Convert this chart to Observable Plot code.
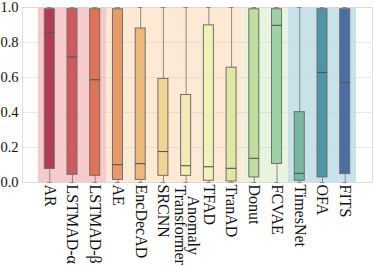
<!DOCTYPE html>
<html>
<head>
<meta charset="utf-8">
<script src="https://cdn.jsdelivr.net/npm/d3@7"></script>
<script src="https://cdn.jsdelivr.net/npm/@observablehq/plot@0.6"></script>
<style>
  html, body { margin: 0; padding: 0; background: #fff; }
  #chart { width: 374px; height: 266px; }
</style>
</head>
<body>
<div id="chart"></div>
<script>
const names = ["AR","LSTMAD-α","LSTMAD-β","AE","EncDecAD","SRCNN","Anomaly\nTransformer","TFAD","TranAD","Donut","FCVAE","TimesNet","OFA","FITS"];
const whiskerLow  = [0,0,0,0,0,0,0,0,0,0,0,0,0,0];
const whiskerHigh = [1,1,1,1,1,1,1,1,1,1,1,1,1,1];
const q1     = [0.077,0.044,0.038,0.015,0.015,0.038,0.038,0.010,0.006,0.029,0.106,0.010,0.029,0.048];
const median = [0.858,0.717,0.587,0.102,0.108,0.177,0.096,0.090,0.081,0.138,0.898,0.052,0.629,0.571];
const q3     = [0.99,0.99,0.99,0.99,0.88,0.592,0.50,0.898,0.656,0.99,0.99,0.402,0.99,0.99];
const boxColors = ["#b13b57","#cf5a5e","#e07351","#e99a6a","#ecb97b","#f0d492","#f3eab5","#eff3b6","#dfe8a2","#c0dea0","#9fd2a5","#76b9a0","#4f96a5","#4a6da6"];

const groupFirst = [0,3,9,11];
const groupLast  = [2,8,10,13];
const groupColors = ["#f6c9cb","#fde9d4","#e9f4de","#c8e2ea"];
const yTicks = [0,0.2,0.4,0.6,0.8,1.0];

const boxes = names.map((n,i) => ({i, n, lo: whiskerLow[i], hi: whiskerHigh[i], q1: q1[i], med: median[i], q3: q3[i], c: boxColors[i]}));
const groups = groupFirst.map((s,k) => ({a: s - 0.5, b: groupLast[k] + 0.5, c: groupColors[k]}));
const hw = 0.22, cw = 0.1;

const font = "'Liberation Serif', 'DejaVu Serif', serif";
const fs = 16;
// multi-line label: lines centred on each other, as in the reference
const multi = boxes.filter(d => d.n.includes("\n"));
const ctx = document.createElement("canvas").getContext("2d");
ctx.font = `${fs}px 'Liberation Serif'`;
const lineGap = 13;
const pad = 3;
const multiMarks = [];
multi.forEach(d => {
  const lines = d.n.split("\n");
  const widths = lines.map(l => ctx.measureText(l).width);
  const wMax = Math.max(...widths);
  lines.forEach((l, k) => {
    const off = (k - (lines.length - 1) / 2) * -lineGap; // first line to the right
    multiMarks.push(Plot.text([d], {x: "i", frameAnchor: "bottom", text: () => l, rotate: 90,
      textAnchor: "middle", lineAnchor: "middle", dy: pad + wMax / 2, dx: off, fontSize: fs, fill: "#111"}));
  });
});

const plot = Plot.plot({
  width: 374, height: 266,
  marginLeft: 22, marginRight: 2, marginTop: 7, marginBottom: 84,
  style: {fontFamily: font, fontSize: fs + "px", background: "#fff", color: "#111", overflow: "visible"},
  x: {type: "linear", domain: [-1.2, 14.2]},
  y: {domain: [0, 1]},
  marks: [
    Plot.rect(groups, {x1: "a", x2: "b", y1: 0, y2: 1, fill: "c"}),
    Plot.ruleY(yTicks, {stroke: "#cfcfcf", strokeOpacity: 0.6, strokeWidth: 0.8}),
    Plot.frame({stroke: "#d8d8d8", strokeWidth: 0.8}),
    Plot.ruleX(boxes, {x: "i", y1: "lo", y2: "q1", stroke: "#8a8a8a", strokeWidth: 1}),
    Plot.ruleX(boxes, {x: "i", y1: "q3", y2: "hi", stroke: "#8a8a8a", strokeWidth: 1}),
    Plot.ruleY(boxes, {y: "lo", x1: d => d.i - cw, x2: d => d.i + cw, stroke: "#8a8a8a", strokeWidth: 1}),
    Plot.ruleY(boxes, {y: "hi", x1: d => d.i - cw, x2: d => d.i + cw, stroke: "#8a8a8a", strokeWidth: 1}),
    Plot.rect(boxes, {x1: d => d.i - hw, x2: d => d.i + hw, y1: "q1", y2: "q3", fill: "c", stroke: "#6e6e6e", strokeWidth: 1}),
    Plot.ruleY(boxes, {y: "med", x1: d => d.i - hw, x2: d => d.i + hw, stroke: "#555", strokeWidth: 1.1}),
    Plot.axisY({ticks: yTicks, tickFormat: d3.format(".1f"), tickSize: 0, tickPadding: 4, label: null, fontSize: 14.5}),
    Plot.axisX({ticks: d3.range(names.length), tickFormat: i => names[i].includes("\n") ? "" : names[i], tickRotate: 90, tickSize: 0, tickPadding: 2, label: null, fontSize: fs}),
    ...multiMarks
  ]
});
document.getElementById("chart").appendChild(plot);
</script>
</body>
</html>
